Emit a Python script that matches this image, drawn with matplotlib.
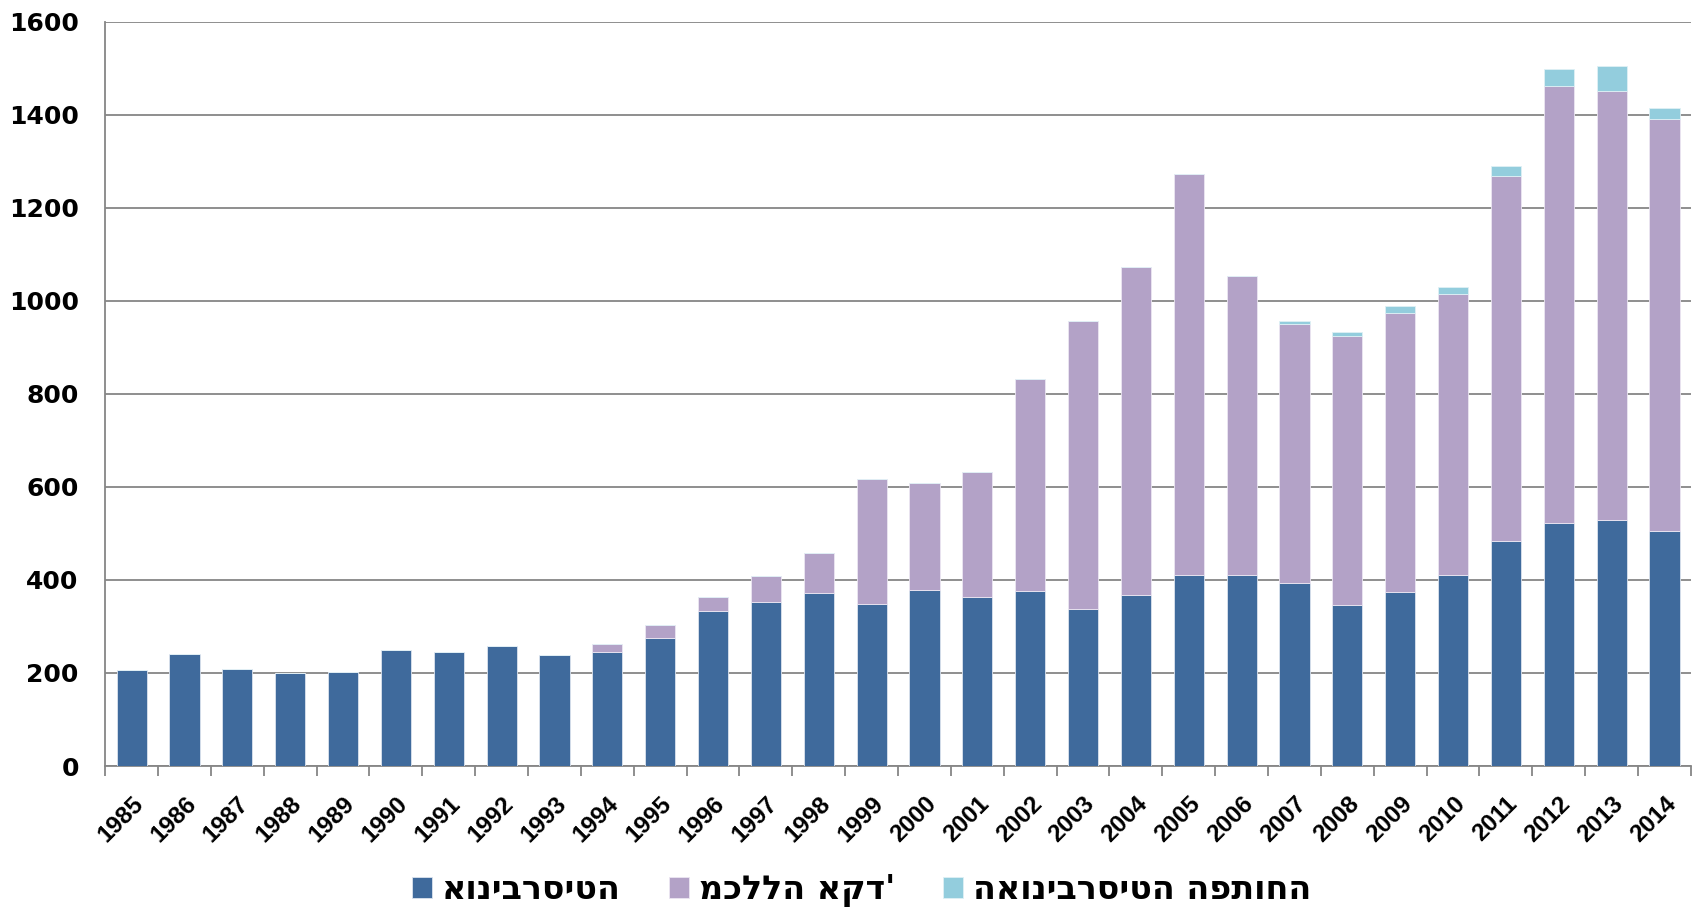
import matplotlib
matplotlib.use("Agg")
import matplotlib.pyplot as plt
import numpy as np

# data
years = list(range(1985, 2015))
university = [206, 240, 209, 201, 203, 249, 245, 257, 239, 246,
              275, 334, 353, 373, 348, 378, 363, 376, 338, 368,
              411, 411, 394, 347, 375, 411, 484, 523, 529, 505]
college = [0, 0, 0, 0, 0, 0, 0, 0, 0, 16,
           28, 30, 56, 84, 269, 231, 270, 456, 619, 705,
           862, 642, 556, 577, 600, 603, 785, 940, 923, 886]
open_univ = [0, 0, 0, 0, 0, 0, 0, 0, 0, 0,
             0, 0, 0, 0, 0, 0, 0, 0, 0, 0,
             0, 0, 7, 10, 15, 17, 21, 36, 54, 24]
# the source draws the hebrew names in stored order, left to right
series_names = ["אוניברסיטה", "מכללה אקד'", "האוניברסיטה הפתוחה"]
colors = ["#3F6A9C", "#B3A2C7", "#93CDDD"]

fig = plt.figure(figsize=(16.96, 9.13), dpi=100)
ax = fig.add_axes([0.062, 0.161, 0.935, 0.815])

x = np.arange(len(years))
w = 0.57
u = np.array(university)
c = np.array(college)
o = np.array(open_univ)
ax.bar(x, u, w, color=colors[0], edgecolor="#dce3ee", linewidth=0.6, label=series_names[0], zorder=3)
ax.bar(x, c, w, bottom=u, color=colors[1], edgecolor="#ece6f2", linewidth=0.6, label=series_names[1], zorder=3)
ax.bar(x, o, w, bottom=u + c, color=colors[2], edgecolor="#dff0f5", linewidth=0.6, label=series_names[2], zorder=3)

ax.set_xlim(-0.5, len(years) - 0.5)
ax.set_ylim(0, 1600)
ax.set_yticks(range(0, 1601, 200))
ax.yaxis.grid(True, color="#868686", linewidth=1.3, zorder=0)
ax.tick_params(axis="y", length=0, pad=19)
for lab in ax.get_yticklabels():
    lab.set_fontweight("heavy")
    lab.set_fontsize(18)
    lab.set_family("DejaVu Sans")

# category ticks sit between bars, labels under bars
ax.set_xticks(np.arange(-0.5, len(years), 1.0))
ax.set_xticklabels([])
ax.set_xticks(x, minor=True)
ax.set_xticklabels([str(y) for y in years], minor=True, rotation=45, ha="right",
                   rotation_mode="anchor", fontsize=17.5, fontweight="bold",
                   family="Liberation Sans")
ax.tick_params(axis="x", which="major", length=7, color="#868686", width=1.3, direction="out")
ax.tick_params(axis="x", which="minor", length=0, pad=19)

for s in ["top", "right"]:
    ax.spines[s].set_visible(False)
for s in ["left", "bottom"]:
    ax.spines[s].set_color("#868686")
    ax.spines[s].set_linewidth(1.3)

leg = fig.legend(loc="center", bbox_to_anchor=(0.508, 0.025), ncol=3, frameon=False,
                 handlelength=0.6, handleheight=0.6, handletextpad=0.3, columnspacing=1.45,
                 prop={"family": "DejaVu Sans", "weight": "bold", "size": 24})

fig.savefig("out.png", dpi=100)
